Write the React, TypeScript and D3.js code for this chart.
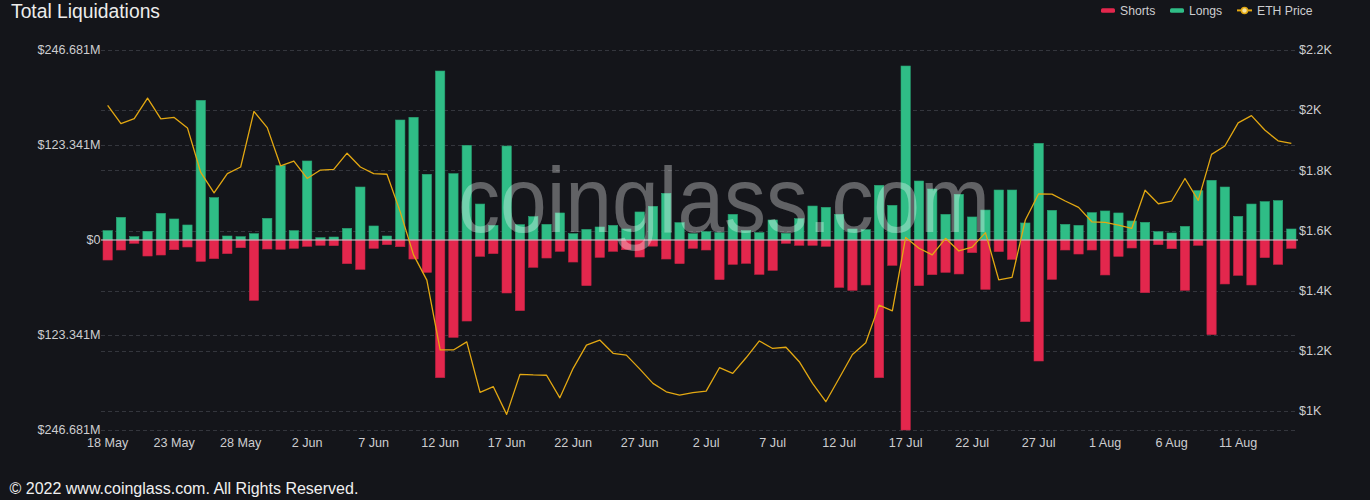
import React from "react";
import * as d3 from "d3";

const dates = [
  "18 May","19 May","20 May","21 May","22 May","23 May","24 May","25 May","26 May","27 May","28 May","29 May","30 May","31 May",
  "1 Jun","2 Jun","3 Jun","4 Jun","5 Jun","6 Jun","7 Jun","8 Jun","9 Jun","10 Jun","11 Jun","12 Jun","13 Jun","14 Jun","15 Jun","16 Jun",
  "17 Jun","18 Jun","19 Jun","20 Jun","21 Jun","22 Jun","23 Jun","24 Jun","25 Jun","26 Jun","27 Jun","28 Jun","29 Jun","30 Jun",
  "1 Jul","2 Jul","3 Jul","4 Jul","5 Jul","6 Jul","7 Jul","8 Jul","9 Jul","10 Jul","11 Jul","12 Jul","13 Jul","14 Jul","15 Jul","16 Jul",
  "17 Jul","18 Jul","19 Jul","20 Jul","21 Jul","22 Jul","23 Jul","24 Jul","25 Jul","26 Jul","27 Jul","28 Jul","29 Jul","30 Jul","31 Jul",
  "1 Aug","2 Aug","3 Aug","4 Aug","5 Aug","6 Aug","7 Aug","8 Aug","9 Aug","10 Aug","11 Aug","12 Aug","13 Aug","14 Aug","15 Aug",
];

// Longs liquidations (million USD)
const longs = [
  12.1, 29.4, 4.3, 11.3, 34.6, 27.3, 19.5, 181.3, 55.0, 5.2, 4.3, 8.2, 28.1, 96.5, 12.1, 102.6, 3.0, 3.9, 15.1, 68.8, 18.2, 5.2,
  155.8, 159.3, 85.3, 219.4, 86.1, 122.9, 46.7, 19.0, 122.0, 19.9, 30.3, 20.3, 35.1, 8.2, 13.8, 16.9, 19.0, 14.3, 36.4, 43.7, 60.6, 22.5, 8.2,
  10.8, 9.5, 33.3, 12.1, 9.5, 26.0, 8.7, 27.7, 44.1, 42.4, 33.3, 14.3, 13.4, 71.0, 45.0, 225.9, 76.6, 66.2, 33.3, 59.3, 29.9, 38.9,
  64.9, 64.9, 22.1, 125.5, 38.5, 20.3, 19.0, 35.5, 37.7, 35.1, 24.7, 22.9, 10.8, 9.1, 17.7, 64.0, 77.5, 68.8, 30.7, 46.7, 49.8, 51.1, 14.3,
];

// Shorts liquidations (million USD, drawn downward)
const shorts = [
  26.0, 13.0, 4.3, 20.8, 19.5, 12.6, 9.1, 27.7, 24.2, 17.7, 10.0, 78.3, 11.7, 12.1, 10.8, 8.2, 6.9, 7.4, 30.7, 38.1, 10.8, 6.1,
  8.7, 24.7, 42.0, 178.7, 126.4, 105.2, 21.2, 17.7, 68.8, 91.7, 35.5, 23.4, 14.7, 28.6, 59.3, 22.5, 14.7, 12.6, 22.1, 8.0, 24.7, 30.7, 10.8,
  13.0, 51.5, 31.6, 30.3, 44.6, 39.4, 4.3, 6.9, 6.9, 8.2, 61.5, 65.3, 58.4, 178.7, 32.9, 246.681, 59.3, 45.0, 42.0, 44.1, 16.4, 64.0,
  15.1, 25.1, 106.0, 157.1, 51.1, 13.0, 18.2, 13.0, 45.4, 21.2, 10.4, 68.4, 6.1, 11.3, 65.3, 6.9, 122.9, 57.1, 45.9, 58.4, 22.9, 31.6, 10.8,
];

// ETH price (USD)
const ethPrice = [
  2016, 1955, 1972, 2040, 1971, 1976, 1941, 1793, 1725, 1789, 1811, 1996, 1942, 1815, 1831, 1773, 1801, 1803, 1857, 1811, 1789, 1787,
  1662, 1519, 1435, 1203, 1203, 1230, 1062, 1081, 989, 1122, 1120, 1119, 1044, 1142, 1219, 1236, 1192, 1186, 1140, 1092, 1064, 1053, 1061,
  1066, 1144, 1125, 1177, 1233, 1208, 1212, 1164, 1092, 1031, 1109, 1188, 1227, 1352, 1333, 1577, 1541, 1519, 1574, 1532, 1545, 1593,
  1436, 1444, 1635, 1722, 1721, 1698, 1677, 1629, 1627, 1618, 1607, 1734, 1689, 1698, 1773, 1700, 1853, 1881, 1958, 1982, 1934, 1898, 1890,
];

const leftTicks = [-246.681, -123.341, 0, 123.341, 246.681];
const leftTickLabels = ["$246.681M", "$123.341M", "$0", "$123.341M", "$246.681M"];
const rightTicks = [1000, 1200, 1400, 1600, 1800, 2000, 2200];
const rightTickLabels = ["$1K", "$1.2K", "$1.4K", "$1.6K", "$1.8K", "$2K", "$2.2K"];

const W = 1370;
const H = 500;
const plot = { left: 101, right: 1298, top: 50, bottom: 430 };

const BG = "#14151a";
const RED = "#e3274d";
const GREEN = "#2fbd86";
const GOLD = "#e3a812";
const GRID = "#34363d";
const TEXT = "#cdcdd0";
const FONT = "'Liberation Sans', Arial, sans-serif";

export default function App() {
  const x = d3.scaleBand<number>()
    .domain(d3.range(dates.length))
    .range([plot.left, plot.right])
    .paddingInner(0.3)
    .paddingOuter(0.15);
  const cx = (i: number) => (x(i) as number) + x.bandwidth() / 2;

  const yL = d3.scaleLinear().domain([-246.681, 246.681]).range([plot.bottom, plot.top]);
  const yR = d3.scaleLinear().domain([937, 2200]).range([plot.bottom, plot.top]);

  const line = d3.line<number>()
    .x((_, i) => cx(i))
    .y((d) => yR(d));

  const bw = x.bandwidth();

  return (
    <div style={{ position: "absolute", left: 0, top: 0 }}>
      <svg width={W} height={H} style={{ display: "block", background: BG }} fontFamily={FONT}>
        <rect x={0} y={0} width={W} height={H} fill={BG} />
        <text x={11} y={17.5} fill="#ececec" fontSize={19.3}>Total Liquidations</text>

        {/* Legend */}
        <g fontSize={12.2} fill={TEXT}>
          <rect x={1101} y={8.2} width={14} height={4.5} rx={1.5} fill={RED} />
          <text x={1120} y={14.5}>Shorts</text>
          <rect x={1170} y={8.2} width={14} height={4.5} rx={1.5} fill={GREEN} />
          <text x={1189} y={14.5}>Longs</text>
          <line x1={1237} x2={1252} y1={10.4} y2={10.4} stroke={GOLD} strokeWidth={2} />
          <circle cx={1244.5} cy={10.4} r={3} fill="#f6e3a0" stroke={GOLD} strokeWidth={1.5} />
          <text x={1257} y={14.5}>ETH Price</text>
        </g>

        {/* Grid lines */}
        <g stroke={GRID} strokeWidth={1} strokeDasharray="4,3">
          {leftTicks.filter((t) => t !== 0).map((t, i) => (
            <line key={"gl" + i} x1={plot.left} x2={plot.right} y1={Math.round(yL(t)) + 0.5} y2={Math.round(yL(t)) + 0.5} />
          ))}
          {rightTicks.map((t, i) => (
            <line key={"gr" + i} x1={plot.left} x2={plot.right} y1={Math.round(yR(t)) + 0.5} y2={Math.round(yR(t)) + 0.5} />
          ))}
        </g>

        {/* Bars */}
        <g>
          {longs.map((v, i) => (
            <rect key={"l" + i} x={x(i)} width={bw} y={yL(v)} height={yL(0) - yL(v)} fill={GREEN} stroke="#28a272" strokeWidth={0.6} />
          ))}
          {shorts.map((v, i) => (
            <rect key={"s" + i} x={x(i)} width={bw} y={yL(0)} height={yL(-v) - yL(0)} fill={RED} stroke="#c22243" strokeWidth={0.6} />
          ))}
        </g>

        {/* Zero line */}
        <line x1={plot.left} x2={plot.right} y1={yL(0)} y2={yL(0)} stroke="#d4d4d8" strokeWidth={1.2} />

        {/* ETH price line */}
        <path d={line(ethPrice) || ""} fill="none" stroke={GOLD} strokeWidth={1.3} strokeLinejoin="round" />

        {/* Watermark */}
        <text x={724} y={232} textAnchor="middle" fontSize={92} fill="#ffffff" fillOpacity={0.33}
          textLength={532} lengthAdjust="spacingAndGlyphs" fontFamily="'Liberation Sans', Arial, sans-serif">coinglass.com</text>

        {/* Left axis labels */}
        <g fontSize={12.6} fill={TEXT} textAnchor="end">
          {leftTicks.map((t, i) => (
            <text key={"tl" + i} x={100.5} y={yL(t) + 4.3}>{leftTickLabels[i]}</text>
          ))}
        </g>

        {/* Right axis labels */}
        <g fontSize={12.6} fill={TEXT} textAnchor="start">
          {rightTicks.map((t, i) => (
            <text key={"tr" + i} x={1299} y={yR(t) + 4.3}>{rightTickLabels[i]}</text>
          ))}
        </g>

        {/* X axis labels */}
        <g fontSize={12.6} fill={TEXT} textAnchor="middle">
          {dates.map((d, i) => (i % 5 === 0 ? (
            <text key={"x" + i} x={cx(i)} y={446.5}>{d}</text>
          ) : null))}
        </g>

        <text x={9.5} y={494} fontSize={16} fill="#f0f0f0">© 2022 www.coinglass.com. All Rights Reserved.</text>
      </svg>
    </div>
  );
}
